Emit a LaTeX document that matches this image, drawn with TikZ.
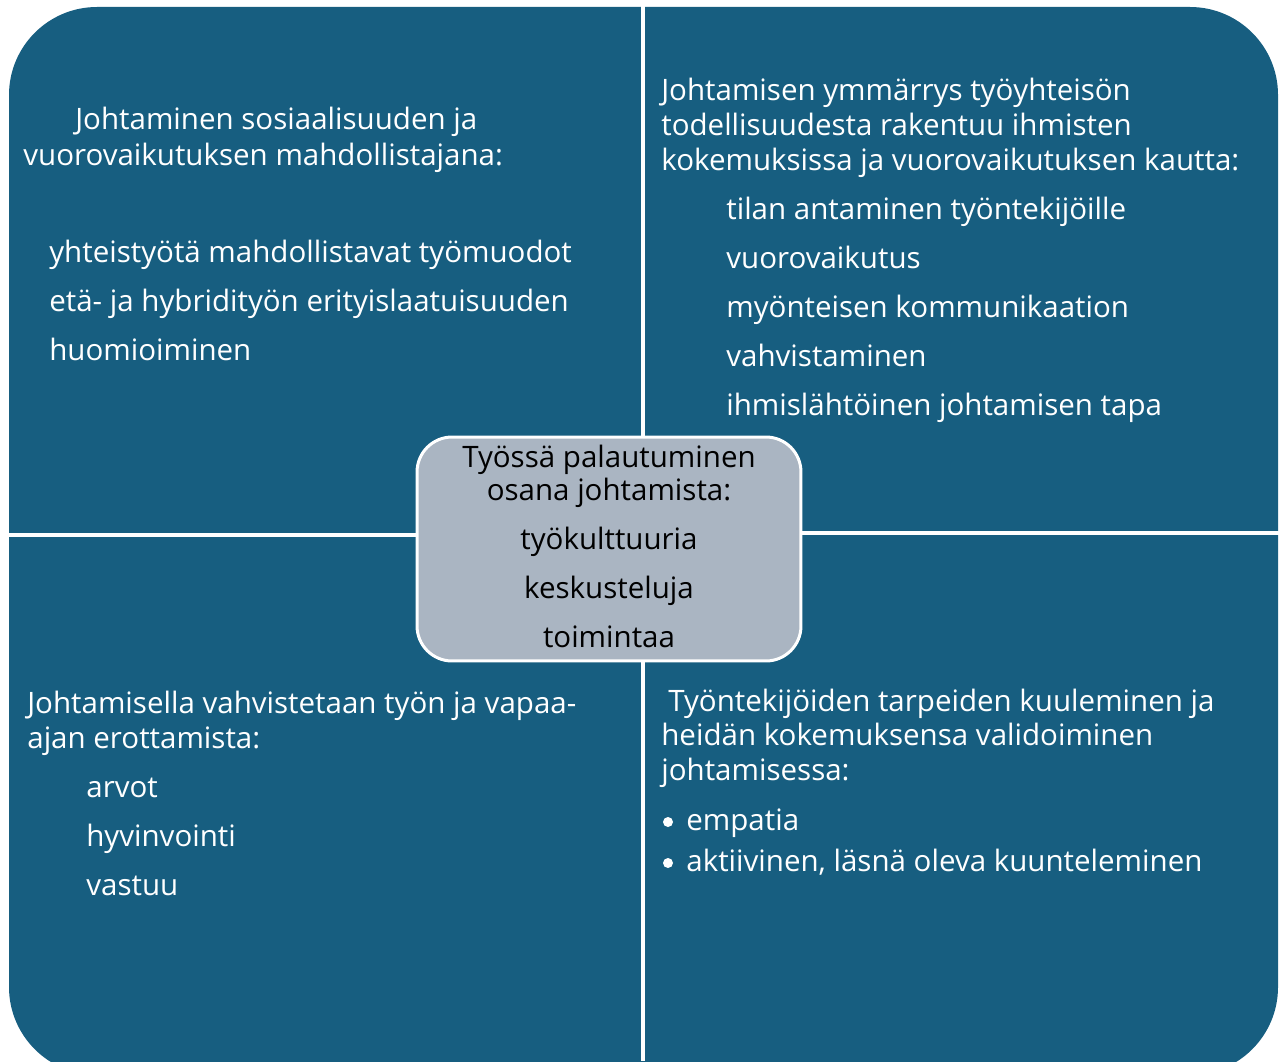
\documentclass[tikz,border=0pt]{standalone}
\usepackage{fontspec}
\setmainfont{Open Sans}
\usepackage{tikz}

\definecolor{quadblue}{RGB}{23,94,128}
\definecolor{hubgray}{RGB}{170,181,194}

\tikzset{
    line/.style={anchor=base west, inner sep=0pt, text=white, font=\fontsize{16.8}{19}\selectfont},
    hubline/.style={anchor=base, inner sep=0pt, text=black, font=\fontsize{16.8}{19}\selectfont},
    hub/.style={draw=white, fill=hubgray, line width=0.06cm, rounded corners=0.7cm,
        minimum width=7.68cm, minimum height=4.48cm, inner sep=0pt},
    dot/.style={circle, fill=white, inner sep=0pt, minimum size=0.2cm},
    divider/.style={white, line width=0.07cm}
}

\begin{document}
\begin{tikzpicture}[x=0.02cm, y=-0.02cm]
        \useasboundingbox (0,0) rectangle (1280,1061);
        \begin{scope}
            \clip (0,0) rectangle (1280,1061);
            \fill[quadblue, rounded corners=1.76cm] (9,7) rectangle (1278,1075);
        \end{scope}

        % centre box
        \node[hub] (hub) at (609,549) {};
        \draw[divider] (643,0) -- (hub.north -| 643,0);
        \draw[divider] (hub.south -| 643,0) -- (643,1061);
        \draw[divider] (0,535) -- (hub.west |- 0,535);
        \draw[divider] (hub.east |- 0,533) -- (1280,533);

        \node[hubline] (hub-1) at (609,467) {Työssä palautuminen};
        \node[hubline] (hub-2) at (609,500) {osana johtamista:};
        \foreach \t [count=\i from 0] in {työkulttuuria, keskusteluja, toimintaa}
            \node[hubline] (hub-item-\i) at (609,549+49*\i) {\t};

        % top left
        \node[line] (tl-1) at (75,130) {Johtaminen sosiaalisuuden ja};
        \node[line] (tl-2) at (23,165) {vuorovaikutuksen mahdollistajana:};
        \foreach \t [count=\i from 0] in {yhteistyötä mahdollistavat työmuodot, etä- ja hybridityön erityislaatuisuuden, huomioiminen}
            \node[line] (tl-item-\i) at (49,262+49*\i) {\t};

        % top right
        \node[line] (tr-1) at (661,100) {Johtamisen ymmärrys työyhteisön};
        \node[line] (tr-2) at (661,135) {todellisuudesta rakentuu ihmisten};
        \node[line] (tr-3) at (661,170) {kokemuksissa ja vuorovaikutuksen kautta:};
        \foreach \t [count=\i from 0] in {tilan antaminen työntekijöille, vuorovaikutus, myönteisen kommunikaation, vahvistaminen, ihmislähtöinen johtamisen tapa}
            \node[line] (tr-item-\i) at (726,219+49*\i) {\t};

        % bottom left
        \node[line] (bl-1) at (27,713) {Johtamisella vahvistetaan työn ja vapaa-};
        \node[line] (bl-2) at (27,748) {ajan erottamista:};
        \foreach \t [count=\i from 0] in {arvot, hyvinvointi, vastuu}
            \node[line] (bl-item-\i) at (86,797+49*\i) {\t};

        % bottom right
        \node[line] (br-1) at (668,711) {Työntekijöiden tarpeiden kuuleminen ja};
        \node[line] (br-2) at (661,745) {heidän kokemuksensa validoiminen};
        \node[line] (br-3) at (661,780) {johtamisessa:};
        \foreach \t [count=\i from 0] in {empatia, {aktiivinen, läsnä oleva kuunteleminen}} {
            \node[dot] (br-dot-\i) at (668,822+41*\i) {};
            \node[line] (br-item-\i) at (686,830+41*\i) {\t};
        }
    \end{tikzpicture}
\end{document}
